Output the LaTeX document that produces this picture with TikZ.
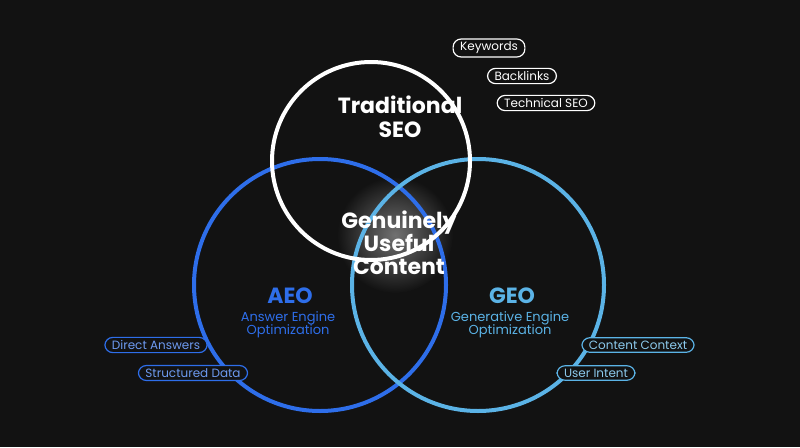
\documentclass[tikz,border=0pt]{standalone}
\usepackage{fontspec}
\setmainfont{Poppins}
\definecolor{bg}{HTML}{121212}
\definecolor{aeo}{HTML}{2E6EEA}
\definecolor{geo}{HTML}{5BB3E6}
\tikzset{
  ring/.style={line width=4pt},
  pill/.style={draw, rounded corners=8pt, line width=1.2pt, fill=bg, inner xsep=7pt, inner ysep=3pt, font=\fontsize{12}{14}\selectfont, text=white},
  title/.style={align=center, font=\fontsize{22}{25}\selectfont\bfseries},
  sub/.style={align=center, font=\fontsize{13}{15}\selectfont}
}
\begin{document}
\begin{tikzpicture}[x=1pt,y=-1pt]
\fill[bg] (0,0) rectangle (800,447);
\useasboundingbox (0,0) rectangle (800,447);
\shade[inner color=white!40!bg, outer color=bg] (395,235) circle (58);
\draw[ring,aeo] (320,285) circle (126);
\draw[ring,geo] (478,285) circle (126);
\draw[ring,white] (371,161) circle (99);
\node[title,text=white] (seo) at (400,117) {Traditional\\[-1pt]SEO};
\node[title,text=white] (core) at (399,243) {Genuinely\\[-2pt]Useful\\[-2pt]Content};
\node[title,text=aeo] (aeo) at (290,296) {AEO};
\node[sub,text=aeo] (aeos) at (288,325) {Answer Engine\\[-2pt]Optimization};
\node[title,text=geo] (geo) at (512,296) {GEO};
\node[sub,text=geo] (geos) at (510,325) {Generative Engine\\[-2pt]Optimization};
\node[pill,draw=white] (k) at (489,48) {Keywords};
\node[pill,draw=white] (b) at (522,76) {Backlinks};
\node[pill,draw=white] (t) at (546,103) {Technical SEO};
\node[pill,draw=aeo,text=aeo!70!white] (d) at (156,345) {Direct Answers};
\node[pill,draw=aeo,text=aeo!70!white] (s) at (193,373) {Structured Data};
\node[pill,draw=geo,text=geo!70!white] (c) at (638,345) {Content Context};
\node[pill,draw=geo,text=geo!70!white] (u) at (596,373) {User Intent};
\end{tikzpicture}
\end{document}
